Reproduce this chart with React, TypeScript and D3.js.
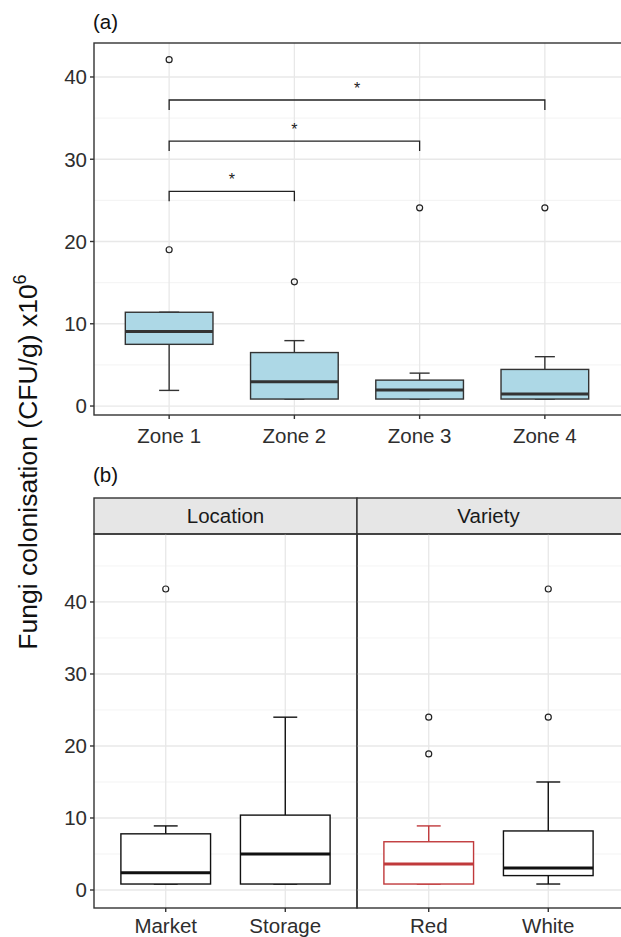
import React from "react";
import * as d3 from "d3";

// panel (a): zones
const zones = ["Zone 1", "Zone 2", "Zone 3", "Zone 4"];
const zoneLow = [1.9, 0.85, 0.85, 0.85];
const zoneQ1 = [7.5, 0.85, 0.85, 0.85];
const zoneMedian = [9.05, 2.95, 1.95, 1.45];
const zoneQ3 = [11.4, 6.5, 3.15, 4.45];
const zoneHigh = [11.4, 7.95, 4.0, 6.0];
const zoneOutliers = [[19, 42.1], [15.1], [24.1], [24.1]];

// significance brackets: [from, to, height]
const brackets: [string, string, number][] = [
  ["Zone 1", "Zone 2", 26.1],
  ["Zone 1", "Zone 3", 32.2],
  ["Zone 1", "Zone 4", 37.2],
];

// panel (b): facets
const facets = ["Location", "Variety"];
const facetGroups = [
  ["Market", "Storage"],
  ["Red", "White"],
];
const groupLow = [[0.83, 0.83], [0.83, 0.83]];
const groupQ1 = [[0.83, 0.83], [0.83, 2.0]];
const groupMedian = [[2.4, 5.0], [3.6, 3.05]];
const groupQ3 = [[7.8, 10.4], [6.7, 8.2]];
const groupHigh = [[8.9, 24.0], [8.9, 15.0]];
const groupOutliers = [
  [[41.8], []],
  [[24, 18.9], [24, 41.8]],
];
const groupColors = [["#111", "#111"], ["#c0393b", "#111"]];

const yTicks = [0, 10, 20, 30, 40];
const minorA = [5, 15, 25, 35];
const minorB = [5, 15, 25, 35, 45];

const FONT = "Liberation Sans, Arial, sans-serif";
const TXT = "#2e2e2e";

type Box = { x: number; low: number; q1: number; med: number; q3: number; high: number; out: number[] };

function BoxMark({ b, y, w, cap, fill, stroke }: { b: Box; y: d3.ScaleLinear<number, number>; w: number; cap: number; fill: string; stroke: string }) {
  return (
    <g>
      <line x1={b.x} x2={b.x} y1={y(b.q3)} y2={y(b.high)} stroke={stroke} strokeWidth={1.4} />
      <line x1={b.x} x2={b.x} y1={y(b.q1)} y2={y(b.low)} stroke={stroke} strokeWidth={1.4} />
      <line x1={b.x - cap / 2} x2={b.x + cap / 2} y1={y(b.high)} y2={y(b.high)} stroke={stroke} strokeWidth={1.4} />
      <line x1={b.x - cap / 2} x2={b.x + cap / 2} y1={y(b.low)} y2={y(b.low)} stroke={stroke} strokeWidth={1.4} />
      <rect x={b.x - w / 2} y={y(b.q3)} width={w} height={y(b.q1) - y(b.q3)} fill={fill} stroke={stroke} strokeWidth={1.4} />
      <line x1={b.x - w / 2} x2={b.x + w / 2} y1={y(b.med)} y2={y(b.med)} stroke={stroke} strokeWidth={3} />
      {b.out.map((o, i) => (
        <circle key={i} cx={b.x} cy={y(o)} r={3} fill="none" stroke="#222" strokeWidth={1.2} />
      ))}
    </g>
  );
}

export default function App() {
  const W = 621;
  const H = 937;
  const left = 94;
  const right = 620;

  // panel (a)
  const aTop = 43;
  const aBottom = 415;
  const yA = d3.scaleLinear().domain([-1.09, 44.13]).range([aBottom, aTop]);
  const xA = d3.scalePoint<string>().domain(zones).range([left, right]).padding(0.6);
  const stepA = xA.step();

  // panel (b)
  const stripTop = 498;
  const bTop = 534;
  const bBottom = 908;
  const mid = 357;
  const yB = d3.scaleLinear().domain([-2.5, 49.44]).range([bBottom, bTop]);
  const xB = facetGroups.map((g, i) =>
    d3.scalePoint<string>().domain(g).range(i === 0 ? [left, mid] : [mid, right]).padding(0.6)
  );
  const stepB = xB[0].step();

  return (
    <svg width={W} height={H} style={{ position: "absolute", left: 0, top: 0 }} fontFamily={FONT}>
      <rect width={W} height={H} fill="#fff" />

      {/* ---------- (a) ---------- */}
      <text x={93} y={29} fontSize={20.5} fill="#111">(a)</text>
      {minorA.map((t) => (
        <line key={"ma" + t} x1={left} x2={W + 2} y1={yA(t)} y2={yA(t)} stroke="#f0f0f0" strokeWidth={0.8} />
      ))}
      {yTicks.map((t) => (
        <line key={"ga" + t} x1={left} x2={W + 2} y1={yA(t)} y2={yA(t)} stroke="#e8e8e8" strokeWidth={1.3} />
      ))}
      {zones.map((z) => (
        <line key={"gx" + z} x1={xA(z)} x2={xA(z)} y1={aTop} y2={aBottom} stroke="#e8e8e8" strokeWidth={1.3} />
      ))}
      {zones.map((z, i) => (
        <BoxMark
          key={z}
          b={{ x: xA(z)!, low: zoneLow[i], q1: zoneQ1[i], med: zoneMedian[i], q3: zoneQ3[i], high: zoneHigh[i], out: zoneOutliers[i] }}
          y={yA}
          w={stepA * 0.7}
          cap={stepA * 0.16}
          fill="#add8e6"
          stroke="#333"
        />
      ))}
      {brackets.map(([a, b, h], i) => {
        const x1 = xA(a)!;
        const x2 = xA(b)!;
        const tip = 1.2;
        return (
          <g key={"br" + i}>
            <path
              d={`M${x1},${yA(h - tip)}V${yA(h)}H${x2}V${yA(h - tip)}`}
              fill="none"
              stroke="#222"
              strokeWidth={1.3}
            />
            <text x={(x1 + x2) / 2} y={yA(h) - 6} textAnchor="middle" fontSize={16} fill="#222">*</text>
          </g>
        );
      })}
      <rect x={left} y={aTop} width={W + 4 - left} height={aBottom - aTop} fill="none" stroke="#333" strokeWidth={1.4} />
      {yTicks.map((t) => (
        <g key={"ta" + t}>
          <line x1={left - 4} x2={left} y1={yA(t)} y2={yA(t)} stroke="#333" strokeWidth={1.4} />
          <text x={left - 7} y={yA(t)} dy="0.36em" textAnchor="end" fontSize={20.5} fill={TXT}>{t}</text>
        </g>
      ))}
      {zones.map((z) => (
        <g key={"tx" + z}>
          <line x1={xA(z)} x2={xA(z)} y1={aBottom} y2={aBottom + 4} stroke="#333" strokeWidth={1.4} />
          <text x={xA(z)} y={aBottom + 28} textAnchor="middle" fontSize={20.5} fill={TXT}>{z}</text>
        </g>
      ))}

      {/* ---------- (b) ---------- */}
      <text x={93} y={482} fontSize={20.5} fill="#111">(b)</text>
      {facets.map((f, i) => {
        const x0 = i === 0 ? left : mid;
        const x1 = i === 0 ? mid : W + 4;
        return (
          <g key={f}>
            <rect x={x0} y={stripTop} width={x1 - x0} height={bTop - stripTop} fill="#e6e6e6" stroke="#333" strokeWidth={1.4} />
            <text x={(x0 + (i === 0 ? mid : right)) / 2} y={(stripTop + bTop) / 2} dy="0.36em" textAnchor="middle" fontSize={20.5} fill="#1a1a1a">{f}</text>
            {minorB.map((t) => (
              <line key={"mb" + t} x1={x0} x2={x1} y1={yB(t)} y2={yB(t)} stroke="#f0f0f0" strokeWidth={0.8} />
            ))}
            {yTicks.map((t) => (
              <line key={"gb" + t} x1={x0} x2={x1} y1={yB(t)} y2={yB(t)} stroke="#e8e8e8" strokeWidth={1.3} />
            ))}
            {facetGroups[i].map((g) => (
              <line key={"gbx" + g} x1={xB[i](g)} x2={xB[i](g)} y1={bTop} y2={bBottom} stroke="#e8e8e8" strokeWidth={1.3} />
            ))}
            {facetGroups[i].map((g, j) => (
              <BoxMark
                key={g}
                b={{
                  x: xB[i](g)!,
                  low: groupLow[i][j],
                  q1: groupQ1[i][j],
                  med: groupMedian[i][j],
                  q3: groupQ3[i][j],
                  high: groupHigh[i][j],
                  out: groupOutliers[i][j],
                }}
                y={yB}
                w={stepB * 0.75}
                cap={stepB * 0.2}
                fill="#fff"
                stroke={groupColors[i][j]}
              />
            ))}
            <rect x={x0} y={bTop} width={x1 - x0} height={bBottom - bTop} fill="none" stroke="#333" strokeWidth={1.4} />
            {facetGroups[i].map((g) => (
              <g key={"tbx" + g}>
                <line x1={xB[i](g)} x2={xB[i](g)} y1={bBottom} y2={bBottom + 4} stroke="#333" strokeWidth={1.4} />
                <text x={xB[i](g)} y={bBottom + 25} textAnchor="middle" fontSize={20.5} fill={TXT}>{g}</text>
              </g>
            ))}
          </g>
        );
      })}
      {yTicks.map((t) => (
        <g key={"tb" + t}>
          <line x1={left - 4} x2={left} y1={yB(t)} y2={yB(t)} stroke="#333" strokeWidth={1.4} />
          <text x={left - 7} y={yB(t)} dy="0.36em" textAnchor="end" fontSize={20.5} fill={TXT}>{t}</text>
        </g>
      ))}

      {/* shared y-axis title */}
      <text transform="translate(37,462) rotate(-90)" textAnchor="middle" fontSize={26.5} fill="#111">
        Fungi colonisation (CFU/g) x10<tspan fontSize={18} dy={-11}>6</tspan>
      </text>
    </svg>
  );
}
